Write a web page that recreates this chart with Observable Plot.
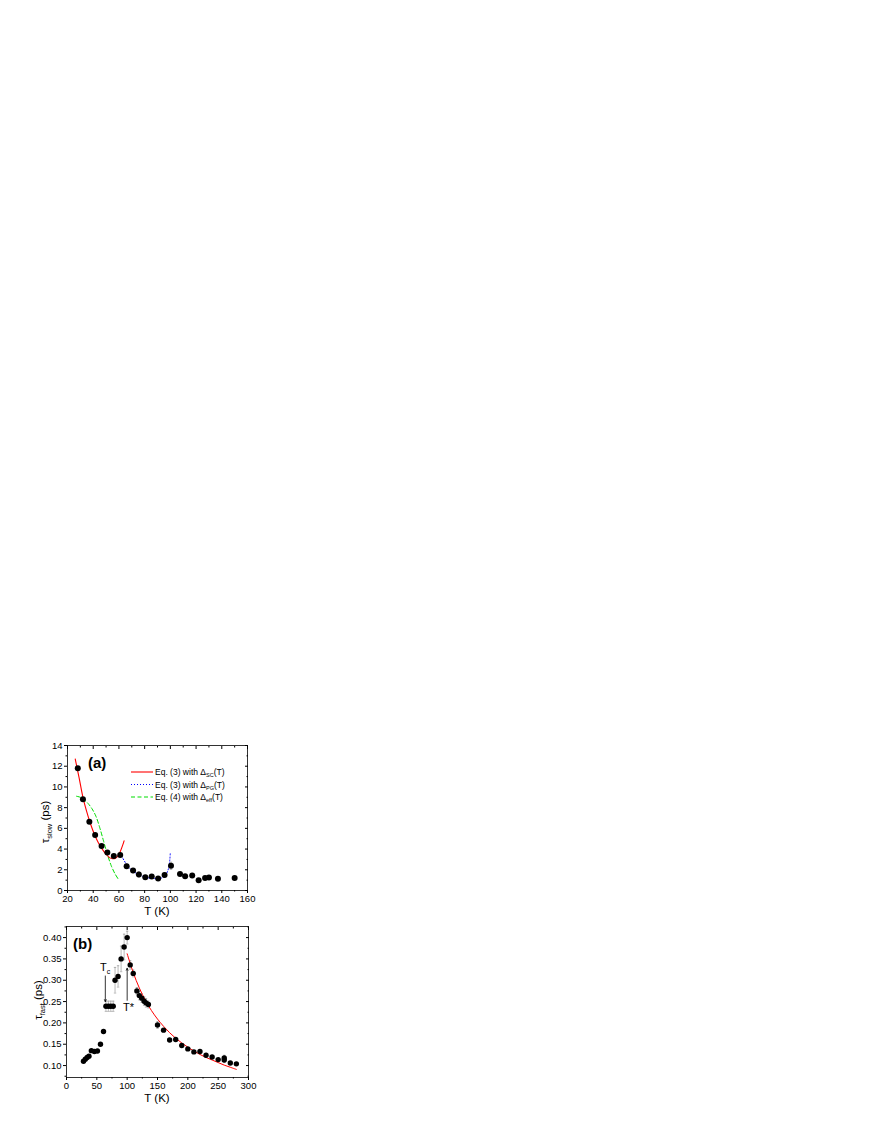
<!DOCTYPE html>
<html><head><meta charset="utf-8">
<script src="https://cdn.jsdelivr.net/npm/d3@7"></script>
<script src="https://cdn.jsdelivr.net/npm/@observablehq/plot@0.6"></script>
<style>
body{margin:0;background:#fff;width:872px;height:1128px;position:relative;font-family:"Liberation Sans",Arial,sans-serif;}
#a,#b{position:absolute;left:0;}
#a{top:730px;} #b{top:915px;}
svg{overflow:visible;}
</style></head><body>
<div id="a"></div><div id="b"></div>
<script>
// ---------- Panel (a): tau_slow ----------
const aT   = [28,32,37,41.5,46.5,51,56,61,66,71,75.5,80.5,85.5,90.5,95.5,100.5,107.5,111.5,117,122,127,130,137,150];
const aTau = [11.8,8.8,6.65,5.35,4.3,3.68,3.33,3.42,2.35,1.92,1.55,1.27,1.35,1.16,1.5,2.38,1.6,1.37,1.45,0.98,1.2,1.25,1.13,1.2];
const aErr = [0,0,0,0,0,0,0,0,0.2,0.2,0.25,0.1,0.1,0.1,0.2,0.35,0,0,0,0,0,0,0,0];
// Eq.(3) with Delta_SC(T)
const scT = [26,29,32,35,38,41,44,47,50,53,55,57,59,61,63,64];
const scV = [12.7,10.9,9.0,7.6,6.4,5.4,4.6,4.0,3.5,3.15,3.07,3.1,3.3,3.75,4.4,4.8];
// Eq.(3) with Delta_PG(T)
const pgT = [60,62,64,66,68,70,73,76,80,84,88,91,94,96,98,99,99.6,100];
const pgV = [3.45,3.3,2.9,2.5,2.2,1.95,1.7,1.5,1.3,1.2,1.15,1.15,1.25,1.45,1.9,2.4,3.0,3.7];
// Eq.(4) with Delta_eff(T)
const efT = [27,30,33,36,39,42,45,48,51,54,57,60];
const efV = [9.1,9.0,8.75,8.4,7.9,7.2,6.1,4.8,3.5,2.4,1.6,1.0];
const aXTicks = [20,40,60,80,100,120,140,160];
const aXMinor = [30,50,70,90,110,130,150];
const aYTicks = [0,2,4,6,8,10,12,14];
const aYMinor = [1,3,5,7,9,11,13];
const legendLabels = [["Eq. (3) with Δ","SC","(T)"],["Eq. (3) with Δ","PG","(T)"],["Eq. (4) with Δ","eff","(T)"]];

// ---------- Panel (b): tau_fast ----------
const bT = [28,31,34,37,41,46,51,56,61,65,69,73,77,80,85,90,95,100,105,110,116,120,124,128,131,135,150,160,170,180,190,200,210,220,230,240,250,260,260,270,280];
const bV = [0.110,0.115,0.119,0.122,0.135,0.133,0.134,0.150,0.180,0.239,0.239,0.239,0.239,0.300,0.309,0.350,0.378,0.400,0.336,0.316,0.275,0.264,0.258,0.251,0.247,0.243,0.195,0.183,0.160,0.161,0.147,0.139,0.132,0.133,0.124,0.120,0.114,0.118,0.113,0.106,0.104];
const bE = [0,0,0,0,0,0,0,0,0,0.012,0.012,0.012,0.012,0.03,0.025,0.03,0.03,0.015,0.01,0.008,0.008,0.01,0.01,0.01,0.01,0.008,0.008,0,0,0,0,0,0,0,0,0,0,0.006,0.006,0,0];
const fitT = [100,110,120,130,140,150,160,170,180,190,200,210,220,230,240,250,260,270,280];
const fitV = [0.362,0.318,0.282,0.253,0.229,0.209,0.192,0.177,0.164,0.153,0.143,0.134,0.126,0.119,0.113,0.107,0.101,0.096,0.091];
const bXTicks = [0,50,100,150,200,250,300];
const bXMinor = [25,75,125,175,225,275];
const bYTicks = [0.10,0.15,0.20,0.25,0.30,0.35,0.40];
const bYMinor = [0.075,0.125,0.175,0.225,0.275,0.325,0.375,0.425];
// annotations: arrows (T, from, to) and labels
const arrowT    = [64, 100];
const arrowFrom = [0.31, 0.253];
const arrowTo   = [0.25, 0.328];
const labelMain = ["T", "T*"];
const labelSub  = ["c", ""];
const labelT    = [56, 94];
const labelV    = [0.321, 0.226];

const FONT = "'Liberation Sans', Arial, Helvetica, sans-serif";
const cap = {draw(ctx, size){const r = Math.sqrt(size/Math.PI); ctx.moveTo(-r,0); ctx.lineTo(r,0);}};

function axes(xt, xm, yt, ym, fmtY){
  const blank = () => "";
  return [
    Plot.axisX({anchor:"bottom", ticks:xt, tickSize:3, tickPadding:2, label:null}),
    Plot.axisX({anchor:"bottom", ticks:xm, tickSize:1.5, tickFormat:blank, label:null}),
    Plot.axisX({anchor:"top", ticks:xt, tickSize:-3, tickFormat:blank, label:null}),
    Plot.axisX({anchor:"top", ticks:xm, tickSize:-1.5, tickFormat:blank, label:null}),
    Plot.axisY({anchor:"left", ticks:yt, tickSize:3, tickPadding:2, tickFormat:fmtY, label:null}),
    Plot.axisY({anchor:"left", ticks:ym, tickSize:1.5, tickFormat:blank, label:null}),
    Plot.axisY({anchor:"right", ticks:yt, tickSize:-3, tickFormat:blank, label:null}),
    Plot.axisY({anchor:"right", ticks:ym, tickSize:-1.5, tickFormat:blank, label:null}),
    Plot.frame({stroke:"black", strokeWidth:0.8})
  ];
}

function subText(sel, x, y, parts, size, opts = {}){
  const t = sel.append("text").attr("x", x).attr("y", y)
    .attr("font-family", FONT).attr("font-size", size).attr("fill", "black")
    .attr("text-anchor", opts.anchor || "start");
  if (opts.rotate) t.attr("transform", `rotate(-90,${x},${y})`);
  if (opts.weight) t.attr("font-weight", opts.weight);
  parts.forEach((p, i) => {
    const s = t.append("tspan").text(p);
    if (i % 2 === 1) { s.attr("font-size", size*0.65).attr("dy", size*0.28); }
    else if (i > 0) { s.attr("dy", -size*0.28); }
  });
  return t;
}

// ----- build panel (a)
const ptsA = aT.map((t,i)=>({T:t, v:aTau[i], e:aErr[i]}));
const errA = ptsA.filter(d=>d.e>0);
const plotA = Plot.plot({
  width: 260, height: 190,
  marginLeft: 67, marginRight: 13, marginTop: 15, marginBottom: 30,
  x: {domain:[20,160], label:null},
  y: {domain:[0,14], label:null},
  style: {fontFamily: FONT, fontSize:"9.5px", color:"black", background:"transparent"},
  marks: [
    ...axes(aXTicks, aXMinor, aYTicks, aYMinor, d3.format("d")),
    Plot.ruleX(errA, {x:"T", y1:d=>d.v-d.e, y2:d=>d.v+d.e, stroke:"#999", strokeWidth:0.7}),
    Plot.dot(errA, {x:"T", y:d=>d.v+d.e, symbol:cap, r:1.2, stroke:"#999", strokeWidth:0.7}),
    Plot.dot(errA, {x:"T", y:d=>d.v-d.e, symbol:cap, r:1.2, stroke:"#999", strokeWidth:0.7}),
    Plot.line(pgT.map((t,i)=>({T:t,v:pgV[i]})), {x:"T", y:"v", stroke:"#0000ff", strokeWidth:1, strokeDasharray:"1,2", curve:"catmull-rom"}),
    Plot.line(efT.map((t,i)=>({T:t,v:efV[i]})), {x:"T", y:"v", stroke:"#00dd00", strokeWidth:1, strokeDasharray:"4,2.5", curve:"catmull-rom"}),
    Plot.line(scT.map((t,i)=>({T:t,v:scV[i]})), {x:"T", y:"v", stroke:"#ff0000", strokeWidth:1.1, curve:"catmull-rom"}),
    Plot.dot(ptsA, {x:"T", y:"v", r:3, fill:"black", stroke:"none"})
  ]
});
document.getElementById("a").appendChild(plotA);
{
  const svg = d3.select(plotA);
  const lg = [["#ff0000", null], ["#0000ff", "1,2"], ["#00dd00", "4,2.5"]];
  const ys = [42, 54.5, 67];
  lg.forEach(([c, dash], i) => {
    const l = svg.append("line").attr("x1", 131).attr("x2", 153).attr("y1", ys[i]).attr("y2", ys[i])
      .attr("stroke", c).attr("stroke-width", 1.1);
    if (dash) l.attr("stroke-dasharray", dash);
    subText(svg, 155, ys[i] + 3, legendLabels[i], 8.5);
  });
  subText(svg, 88, 38, ["(a)"], 15, {weight:"bold"});
  subText(svg, 157, 185, ["T (K)"], 11.5, {anchor:"middle"});
  subText(svg, 49, 92, ["τ", "slow", " (ps)"], 11.5, {anchor:"middle", rotate:true});
}

// ----- build panel (b)
const ptsB = bT.map((t,i)=>({T:t, v:bV[i], e:bE[i]}));
const errB = ptsB.filter(d=>d.e>0);
const arrows = arrowT.map((t,i)=>({T:t, from:arrowFrom[i], to:arrowTo[i]}));
const plotB = Plot.plot({
  width: 260, height: 190,
  marginLeft: 66, marginRight: 12, marginTop: 11, marginBottom: 28,
  x: {domain:[0,300], label:null},
  y: {domain:[0.072,0.426], label:null},
  style: {fontFamily: FONT, fontSize:"9.5px", color:"black", background:"transparent"},
  marks: [
    ...axes(bXTicks, bXMinor, bYTicks, bYMinor, d3.format(".2f")),
    Plot.ruleX(errB, {x:"T", y1:d=>d.v-d.e, y2:d=>d.v+d.e, stroke:"#999", strokeWidth:0.7}),
    Plot.dot(errB, {x:"T", y:d=>d.v+d.e, symbol:cap, r:1.2, stroke:"#999", strokeWidth:0.7}),
    Plot.dot(errB, {x:"T", y:d=>d.v-d.e, symbol:cap, r:1.2, stroke:"#999", strokeWidth:0.7}),
    Plot.line(fitT.map((t,i)=>({T:t,v:fitV[i]})), {x:"T", y:"v", stroke:"#ff0000", strokeWidth:1, curve:"catmull-rom"}),
    Plot.dot(ptsB, {x:"T", y:"v", r:2.7, fill:"black", stroke:"none"}),
    Plot.arrow(arrows, {x1:"T", x2:"T", y1:"from", y2:"to", stroke:"black", strokeWidth:0.8, headLength:4, headAngle:50})
  ]
});
document.getElementById("b").appendChild(plotB);
{
  const svg = d3.select(plotB);
  const sx = plotB.scale("x"), sy = plotB.scale("y");
  labelMain.forEach((m, i) => {
    const parts = labelSub[i] ? [m, labelSub[i]] : [m];
    subText(svg, sx.apply(labelT[i]), sy.apply(labelV[i]), parts, 11);
  });
  subText(svg, 73, 34, ["(b)"], 15, {weight:"bold"});
  subText(svg, 157, 187, ["T (K)"], 11.5, {anchor:"middle"});
  subText(svg, 42, 85, ["τ", "fast", " (ps)"], 11.5, {anchor:"middle", rotate:true});
}
</script></body></html>
